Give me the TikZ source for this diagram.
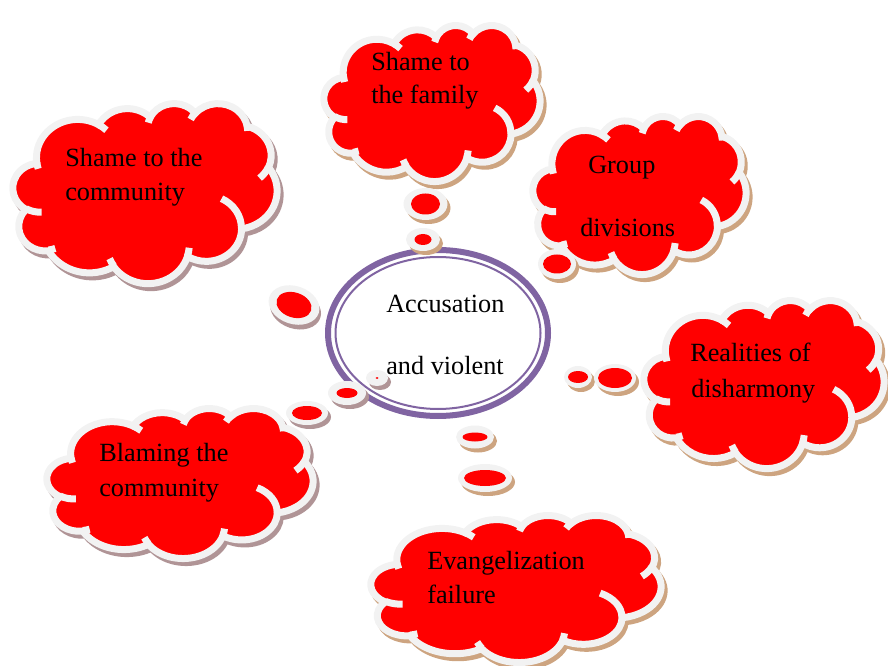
\documentclass[tikz,border=0pt]{standalone}
\usepackage{fontspec}
\setmainfont{Liberation Serif}
\definecolor{cloudred}{RGB}{255,0,0}
\definecolor{rim}{RGB}{242,242,242}
\definecolor{tanshadow}{RGB}{205,164,128}
\definecolor{mauveshadow}{RGB}{176,148,150}
\definecolor{ringpurple}{RGB}{128,100,162}
\newcommand\cldarc[4]{\pgfextra{%
 \pgfmathparse{atan2(#1*sin(#3),#2*cos(#3))}\global\let\cldA\pgfmathresult
 \pgfmathparse{atan2(#1*sin(#3+#4),#2*cos(#3+#4))}\global\let\cldB\pgfmathresult
 \pgfmathparse{mod(\cldB-\cldA+720,360)}\global\let\cldD\pgfmathresult}%
 arc[start angle=\cldA, delta angle=\cldD, x radius=#1, y radius=#2]}
\newcommand\cloudoutline{(39.00,143.70)
 \cldarc{67.53}{91.90}{-190.487}{123.781}
 \cldarc{53.33}{72.67}{-144.102}{89.945}
 \cldarc{43.65}{59.45}{-145.808}{99.723}
 \cldarc{48.57}{65.95}{-130.986}{117.242}
 \cldarc{53.33}{72.73}{-78.709}{109.027}
 \cldarc{67.75}{92.20}{-46.267}{130.269}
 \cldarc{57.85}{78.67}{0.625}{114.033}
 \cldarc{67.52}{92.15}{22.452}{115.173}
 \cldarc{77.20}{105.43}{66.243}{75.711}
 \cldarc{43.60}{59.18}{-274.942}{146.736}
 \cldarc{43.45}{59.45}{-246.829}{152.519}
 -- cycle}
\newcommand\cloudinner{
 (46.93,261.77) \cldarc{43.45}{59.45}{86.742}{26.430}
 (69.28,348.99) \cldarc{43.60}{59.18}{73.610}{11.447}
 (164.78,390.90) \cldarc{67.52}{92.15}{137.624}{14.081}
 (288.27,347.51) \cldarc{67.52}{92.15}{6.453}{15.998}
 (341.29,229.54) \cldarc{57.85}{78.67}{-70.292}{70.917}
 (417.98,153.54) \cldarc{53.33}{72.73}{30.318}{27.752}
 (383.24,54.26) \cldarc{48.57}{65.95}{-13.744}{14.859}
 (290.78,39.52) \cldarc{48.57}{65.95}{-149.181}{18.195}
 (221.41,47.20) \cldarc{43.65}{59.45}{-163.494}{17.686}
 (140.00,51.92) \cldarc{67.53}{91.90}{-66.707}{12.319}
 (41.27,157.89) \cldarc{67.53}{91.90}{157.654}{11.858}}
\newcommand\mycloud[5]{%
 \pgfmathsetmacro\cldsx{0.75*#3/432}%
 \pgfmathsetmacro\cldsy{-0.75*#4/432}%
 \begin{scope}[shift={(#1+3,#2+4)}, x=\cldsx pt, y=\cldsy pt]
  \filldraw[#5, line width=5.25pt] \cloudoutline;
 \end{scope}
 \begin{scope}[shift={(#1,#2)}, x=\cldsx pt, y=\cldsy pt]
  \filldraw[fill=cloudred, draw=rim, line width=5.25pt] \cloudoutline;
  \draw[rim, line width=5.25pt] \cloudinner;
 \end{scope}}
\newcommand\bub[8]{%
 \begin{scope}[shift={(#1,#2)}, rotate=#8]
  \fill[#7] (3,4) ellipse[x radius=#3, y radius=#4];
  \fill[rim] (0,0) ellipse[x radius=#3, y radius=#4];
  \fill[cloudred] (0,0) ellipse[x radius=#5, y radius=#6];
 \end{scope}}
\tikzset{txt/.style={anchor=base west, inner sep=0pt, font=\fontsize{19.7}{24}\selectfont}}
\begin{document}
\begin{tikzpicture}[x=0.75pt, y=-0.75pt]
\useasboundingbox (0,0) rectangle (888,666);
\clip (0,0) rectangle (888,666);
% clouds
\mycloud{13}{103}{264}{180}{mauveshadow}
\mycloud{324}{25}{216}{156}{tanshadow}
\mycloud{533}{116}{213}{158}{tanshadow}
\mycloud{644}{300}{240}{168}{tanshadow}
\mycloud{47}{408}{266}{150}{mauveshadow}
\mycloud{371}{515}{290}{147}{tanshadow}
% central ellipse
\draw[ringpurple, line width=4.5pt, fill=white] (438,333) ellipse[x radius=110, y radius=83];
\draw[ringpurple, line width=1.5pt] (438,333) ellipse[x radius=102.5, y radius=76];
% bubbles
\bub{425.5}{204}{22}{16}{14.5}{10.5}{tanshadow}{0}
\bub{423}{239.5}{17}{11.5}{8.5}{5.5}{tanshadow}{0}
\bub{294}{305}{26}{19}{18}{12.5}{mauveshadow}{-18}
\bub{347}{393}{19}{12}{10.5}{5}{mauveshadow}{0}
\bub{377}{378}{11}{8}{1.5}{1}{mauveshadow}{0}
\bub{307}{413}{21}{12}{15}{7}{mauveshadow}{0}
\bub{557}{264}{19}{15}{14}{9.5}{tanshadow}{0}
\bub{578}{377}{14}{11}{10}{6}{tanshadow}{0}
\bub{615}{378}{21}{14}{17}{10}{tanshadow}{0}
\bub{475}{437}{19}{11.5}{12.5}{4.5}{tanshadow}{0}
\bub{485}{478}{27}{14}{21}{8}{tanshadow}{0}
% texts
\node[txt] (c1a) at (65,167) {Shame to the};
\node[txt] (c1b) at (65,201) {community};
\node[txt] (c2a) at (371,71) {Shame to};
\node[txt] (c2b) at (371,104) {the family};
\node[txt] (c3a) at (588,174) {Group};
\node[txt] (c3b) at (580,237) {divisions};
\node[txt] (c4a) at (690,361) {Realities of};
\node[txt] (c4b) at (691,397) {disharmony};
\node[txt] (c5a) at (99,461) {Blaming the};
\node[txt] (c5b) at (99,496) {community};
\node[txt] (c6a) at (427,569) {Evangelization};
\node[txt] (c6b) at (427,603) {failure};
\node[txt] (ca) at (386,313) {Accusation};
\node[txt] (cb) at (386,374) {and violent};
\end{tikzpicture}
\end{document}
